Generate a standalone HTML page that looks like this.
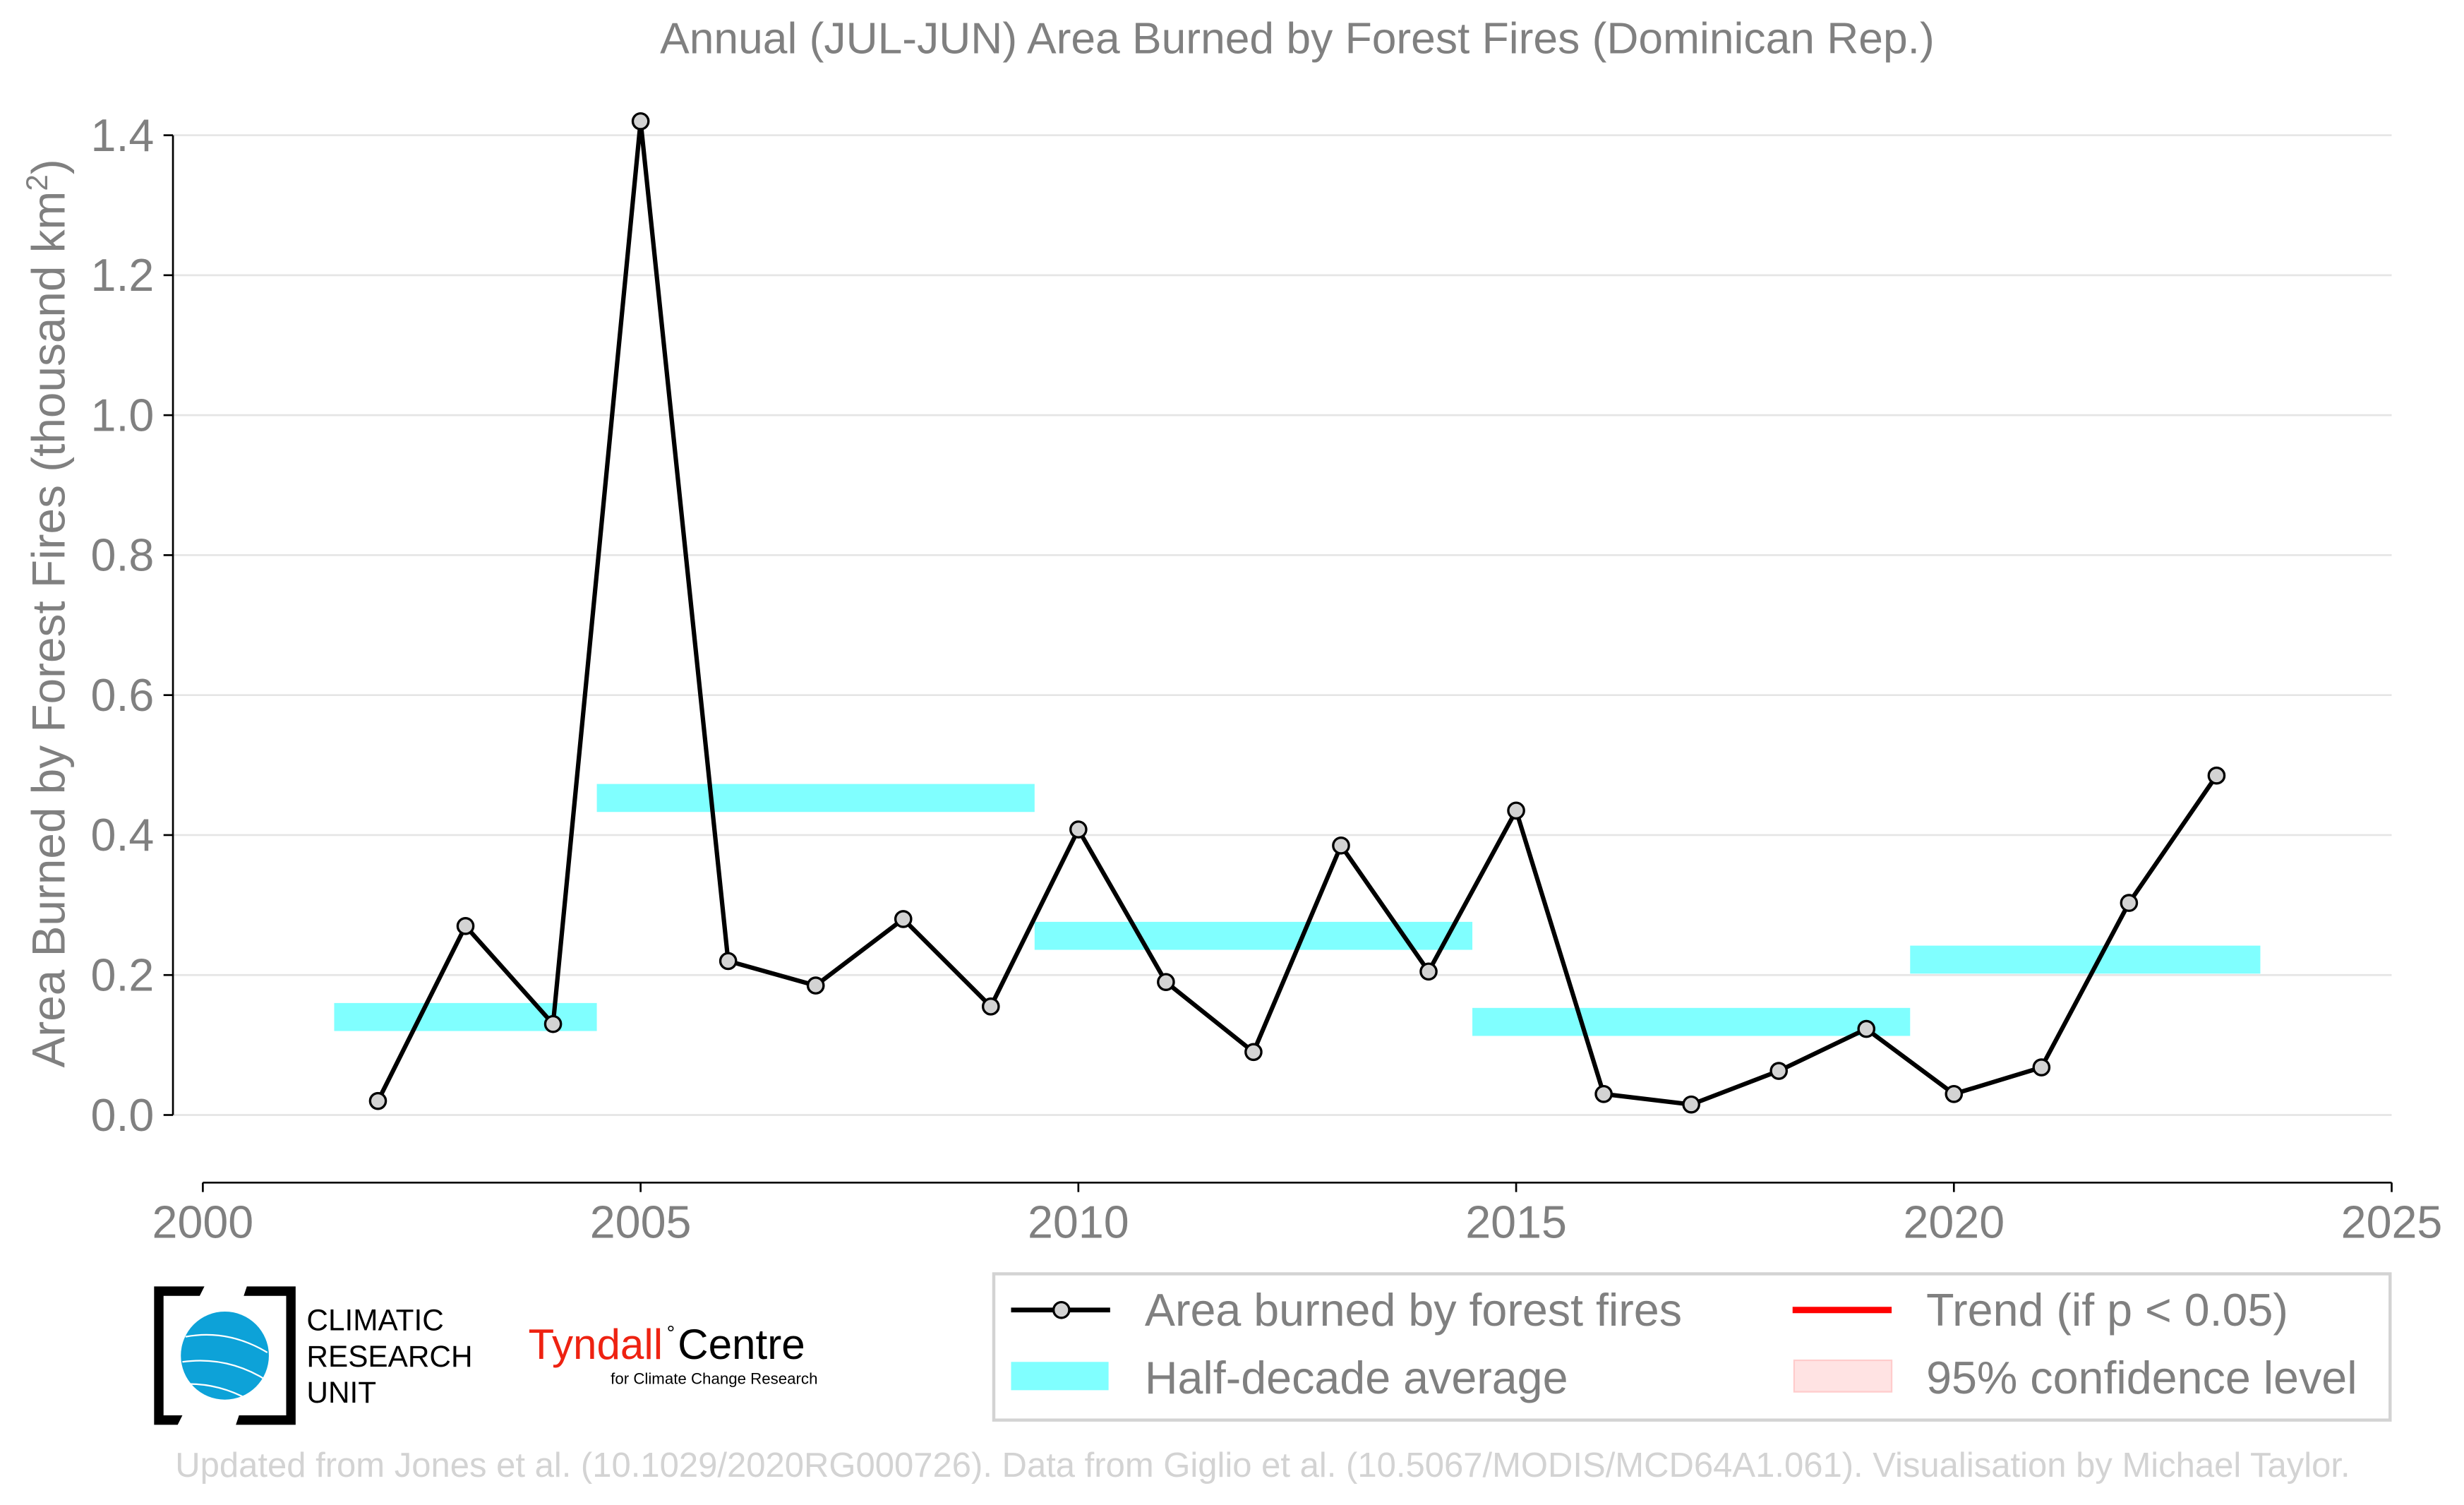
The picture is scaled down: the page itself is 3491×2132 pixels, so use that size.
<!DOCTYPE html>
<html><head><meta charset="utf-8"><style>
html,body{margin:0;padding:0;background:#fff;}
svg{display:block;font-family:"Liberation Sans",sans-serif;}
</style></head><body>
<svg id="chart" width="3491" height="2132" viewBox="0 0 1567 957" preserveAspectRatio="none" xmlns="http://www.w3.org/2000/svg">
<text x="825" y="34" text-anchor="middle" font-size="28" fill="#808080">Annual (JUL-JUN) Area Burned by Forest Fires (Dominican Rep.)</text>
<g id="grid"></g>
<g id="yaxis"></g>
<g id="xaxis"></g>
<text transform="translate(41,390) rotate(-90)" text-anchor="middle" font-size="29.5" fill="#808080">Area Burned by Forest Fires (thousand km<tspan dy="-11" font-size="19">2</tspan><tspan dy="11">)</tspan></text>
<g id="bands"></g>
<path id="line" fill="none" stroke="#000" stroke-width="2.8" stroke-linejoin="round"/>
<g id="points"></g>

<g>
<path d="M98,818 H130 L127,824 H104 V900 H116 L113,906 H98 Z" fill="#000"/>
<path d="M157,818 H188 V906 H150 L152,900 H182 V824 H155 Z" fill="#000"/>
<ellipse cx="143" cy="862" rx="28" ry="28" fill="#0da2d8"/>
<path d="M118,850 Q145,845 170,860 M116,866 Q145,862 170,878 M120,880 Q140,880 158,890" stroke="#fff" stroke-width="1" fill="none"/>
<text x="195" y="846" font-size="19" fill="#000">CLIMATIC</text>
<text x="195" y="869" font-size="19" fill="#000">RESEARCH</text>
<text x="195" y="892" font-size="19" fill="#000">UNIT</text>
</g>
<g>
<text x="336" y="864" font-size="27" fill="#ee2211">Tyndall</text>
<text x="424" y="852" font-size="13" fill="#000">°</text>
<text x="431" y="864" font-size="27" fill="#000">Centre</text>
<text x="520" y="880" font-size="10" text-anchor="end" fill="#000">for Climate Change Research</text>
</g>

<g>
<rect x="632" y="810" width="888" height="93" fill="#fff" stroke="#d3d3d3" stroke-width="2"/>
<line x1="643" y1="833" x2="706" y2="833" stroke="#000" stroke-width="3"/>
<circle cx="675" cy="833" r="5" fill="#d3d3d3" stroke="#000" stroke-width="1.5"/>
<text x="728" y="843" font-size="29" fill="#808080">Area burned by forest fires</text>
<rect x="643" y="866" width="62" height="18" fill="#80ffff"/>
<text x="728" y="886" font-size="29" fill="#808080">Half-decade average</text>
<line x1="1140" y1="833" x2="1203" y2="833" stroke="#ff0000" stroke-width="4"/>
<text x="1225" y="843" font-size="29" fill="#808080">Trend (if p &lt; 0.05)</text>
<rect x="1141" y="865" width="62" height="20" fill="#ffe3e3" stroke="#ffcccc" stroke-width="1"/>
<text x="1225" y="886" font-size="29" fill="#808080">95% confidence level</text>
</g>
<text x="803" y="939" text-anchor="middle" font-size="22" fill="#d3d3d3">Updated from Jones et al. (10.1029/2020RG000726). Data from Giglio et al. (10.5067/MODIS/MCD64A1.061). Visualisation by Michael Taylor.</text>
</svg>
<script>
const years = [2002,2003,2004,2005,2006,2007,2008,2009,2010,2011,2012,2013,2014,2015,2016,2017,2018,2019,2020,2021,2022,2023];
const burned = [0.02,0.27,0.13,1.42,0.22,0.185,0.28,0.155,0.408,0.19,0.09,0.385,0.205,0.435,0.03,0.015,0.063,0.123,0.03,0.068,0.303,0.485];
const bandStart = [2001.5,2004.5,2009.5,2014.5,2019.5];
const bandEnd = [2004.5,2009.5,2014.5,2019.5,2023.5];
const bandMean = [0.14,0.453,0.256,0.133,0.222];
const yTicks = [0.0,0.2,0.4,0.6,0.8,1.0,1.2,1.4];
const xTicks = [2000,2005,2010,2015,2020,2025];

const NS='http://www.w3.org/2000/svg';
const X = v => 129 + (v-2000)*(1521-129)/25;
const Y = v => 709 - v*(709-86)/1.4;
function mk(tag, attrs, parent){const e=document.createElementNS(NS,tag);for(const k in attrs)e.setAttribute(k,attrs[k]);parent.appendChild(e);return e;}
const grid=document.getElementById('grid'), ya=document.getElementById('yaxis'), xa=document.getElementById('xaxis');
mk('line',{x1:110,y1:Y(1.4),x2:110,y2:Y(0),stroke:'#000','stroke-width':1.2},ya);
yTicks.forEach(t=>{
  const g=mk('line',{x1:110,y1:Y(t),x2:1521,y2:Y(t),stroke:'#e5e5e5','stroke-width':1.2},grid);
  
  
  mk('line',{x1:104,y1:Y(t),x2:110,y2:Y(t),stroke:'#000','stroke-width':1.2},ya);
  const tx=mk('text',{x:98,y:Y(t)+10,'text-anchor':'end','font-size':29,fill:'#808080'},ya);
  tx.textContent=t.toFixed(1);
  
  
});
mk('line',{x1:X(2000),y1:752,x2:X(2025),y2:752,stroke:'#000','stroke-width':1.2},xa);
xTicks.forEach(t=>{
  mk('line',{x1:X(t),y1:752,x2:X(t),y2:758,stroke:'#000','stroke-width':1.2},xa);
  const tx=mk('text',{x:X(t),y:787,'text-anchor':'middle','font-size':29,fill:'#808080'},xa);
  tx.textContent=t;
  
  
});
const bands=document.getElementById('bands');
bandMean.forEach((m,i)=>{
  const r=mk('rect',{x:X(bandStart[i]),y:Y(m+0.02),width:X(bandEnd[i])-X(bandStart[i]),height:Y(m-0.02)-Y(m+0.02),fill:'#80ffff'},bands);
  
  
});
document.getElementById('line').setAttribute('d',years.map((y,i)=>(i?'L':'M')+X(y)+','+Y(burned[i])).join(' '));
const pts=document.getElementById('points');
years.forEach((y,i)=>{
  const c=mk('circle',{cx:X(y),cy:Y(burned[i]),r:5,fill:'#d3d3d3',stroke:'#000','stroke-width':1.5},pts);
  
  
});
</script>
</body></html>
